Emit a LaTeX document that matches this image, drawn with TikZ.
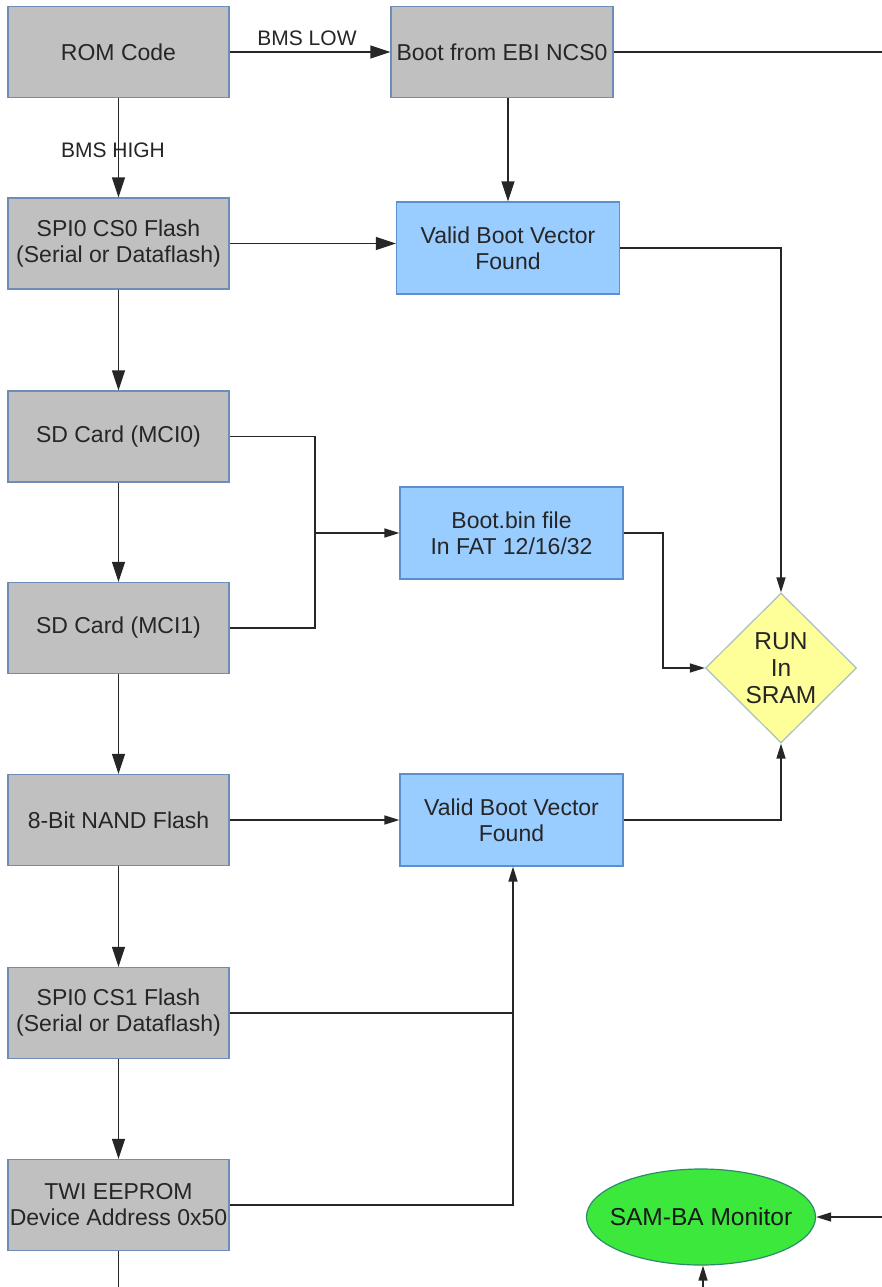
\documentclass[tikz,border=0pt]{standalone}
\usepackage{fontspec}
\setmainfont{Liberation Sans}
\usetikzlibrary{shapes.geometric,arrows.meta}
\definecolor{grayfill}{HTML}{C0C0C0}
\definecolor{grayedge}{HTML}{6D8DB8}
\definecolor{bluefill}{HTML}{99CCFF}
\definecolor{blueedge}{HTML}{5B8FD0}
\definecolor{yellowfill}{HTML}{FFFF99}
\definecolor{yellowedge}{HTML}{A8C0C0}
\definecolor{greenfill}{HTML}{3DE83D}
\definecolor{greenedge}{HTML}{2E8B6A}
\definecolor{txt}{HTML}{262626}
\tikzset{
  base/.style={font=\fontsize{23}{26}\selectfont, text=txt, align=center, inner sep=0pt, line width=1.2pt},
  graybox/.style={base, rectangle, draw=grayedge, fill=grayfill, minimum width=221pt, minimum height=91pt},
  bluebox/.style={base, rectangle, draw=blueedge, fill=bluefill, minimum width=223pt, minimum height=92pt},
  runbox/.style={base, diamond, draw=yellowedge, fill=yellowfill, minimum width=151pt, minimum height=150pt, font=\fontsize{24.5}{27}\selectfont},
  sambox/.style={base, ellipse, draw=greenedge, fill=greenfill, minimum width=229pt, minimum height=96pt, inner xsep=-14pt, text=black!90, font=\fontsize{24.5}{27}\selectfont},
  lbl/.style={font=\fontsize{21}{24}\selectfont, text=txt, inner sep=0pt},
  conn/.style={line width=1.4pt, draw=black!85},
  big/.style={conn, -{Triangle[length=20pt,width=13pt]}},
  small/.style={conn, -{Triangle[length=15pt,width=9pt]}},
}
\begin{document}
\begin{tikzpicture}[x=1pt,y=-1pt]
\useasboundingbox (0,0) rectangle (882,1287);
\fill[white] (0,0) rectangle (882,1287);

% left column
\node[graybox] (rom)  at (118.5,52) {ROM Code};
\node[graybox] (spi0) at (118.5,243.5) {SPI0 CS0 Flash\\(Serial or Dataflash)};
\node[graybox] (sd0)  at (118.5,436.5) {SD Card (MCI0)};
\node[graybox] (sd1)  at (118.5,628) {SD Card (MCI1)};
\node[graybox] (nand) at (118.5,820) {8-Bit NAND Flash};
\node[graybox] (spi1) at (118.5,1013) {SPI0 CS1 Flash\\(Serial or Dataflash)};
\node[graybox] (twi)  at (118.5,1205) {TWI EEPROM\\Device Address 0x50};

% middle column
\node[graybox, minimum width=222pt] (ebi) at (502,52) {Boot from EBI NCS0};
\node[bluebox] (v1)   at (508,248) {Valid Boot Vector\\Found};
\node[bluebox] (boot) at (511.5,533) {Boot.bin file\\In FAT 12/16/32};
\node[bluebox] (v2)   at (511.5,820) {Valid Boot Vector\\Found};

% right
\node[runbox] (run) at (781,668) {RUN\\In\\SRAM};
\node[sambox] (sam) at (701,1217) {SAM-BA Monitor};

% off-picture ends
\coordinate (ebiout) at (882,52);
\coordinate (twiout) at (118.5,1287);
\coordinate (samin)  at (882,1217);
\coordinate (samup)  at (703,1287);
\coordinate (sdj0) at (315,436.5);
\coordinate (sdj1) at (315,628);
\coordinate (sdjm) at (315,533);
\coordinate (bootj) at (663,533);
\coordinate (vj) at (513,1013);

% connectors
\draw[big] (rom.east) -- (ebi.west);
\node[lbl] (bmslow) at (307,38) {BMS LOW};
\draw[conn] (ebi.east) -- (ebiout);

\draw[big] (rom.south) -- (spi0.north);
\node[lbl] (bmshigh) at (113,150) {BMS HIGH};

\draw[big] (v1.north |- ebi.south) -- (v1.north);
\draw[big] (spi0.east) -- (spi0.east -| v1.west);
\draw[small] (v1.east) -| (run.north);

\draw[big] (spi0.south) -- (sd0.north);
\draw[big] (sd0.south) -- (sd1.north);
\draw[big] (sd1.south) -- (nand.north);
\draw[big] (nand.south) -- (spi1.north);
\draw[big] (spi1.south) -- (twi.north);
\draw[conn] (twi.south) -- (twiout);

\draw[conn] (sd0.east) -- (sdj0) -- (sdj1) -- (sd1.east);
\draw[small] (sdjm) -- (boot.west);
\draw[small] (boot.east) -- (bootj) |- (run.west);

\draw[small] (nand.east) -- (v2.west);
\draw[small] (v2.east) -| (run.south);

\draw[conn] (spi1.east) -- (vj);
\draw[small] (twi.east) -| (vj) -- (vj |- v2.south);

\draw[small] (samin) -- (sam.east);
\draw[small] (samup) -- (samup |- sam.south);
\end{tikzpicture}
\end{document}
